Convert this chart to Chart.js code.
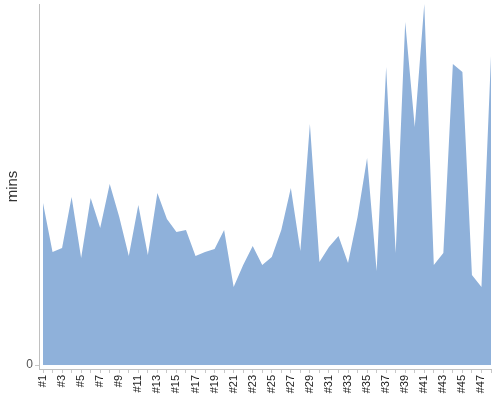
<!DOCTYPE html>
<html>
<head>
<meta charset="utf-8">
<script src="https://cdn.jsdelivr.net/npm/chart.js@4"></script>
<style>
html,body{margin:0;padding:0;background:#fff;}
#wrap{width:500px;height:400px;}
</style>
</head>
<body>
<div id="wrap"><canvas id="c" width="500" height="400"></canvas></div>
<script>
const categories = ["#1","#2","#3","#4","#5","#6","#7","#8","#9","#10","#11","#12","#13","#14","#15","#16","#17","#18","#19","#20","#21","#22","#23","#24","#25","#26","#27","#28","#29","#30","#31","#32","#33","#34","#35","#36","#37","#38","#39","#40","#41","#42","#43","#44","#45","#46","#47","#48"];
const minsValues = [162,113,117,168,107,167,137,181,148,109,160,110,172,146,133,135,109,113,116,135,78,100,119,100,108,135,177,114,241,103,118,129,102,148,207,94,298,112,343,238,361,100,112,301,293,90,78,309];
const yTickValues = [0];
const yTitle = "mins";

const points = minsValues.map((v, i) => ({x: i, y: v}));
const labelFont = {family: "'Liberation Sans', Arial, sans-serif", size: 11};

new Chart(document.getElementById('c'), {
  type: 'line',
  data: {
    datasets: [{
      data: points,
      fill: 'origin',
      backgroundColor: 'rgb(143,177,218)',
      borderColor: 'rgb(143,177,218)',
      borderWidth: 0,
      pointRadius: 0,
      tension: 0
    }]
  },
  options: {
    responsive: false,
    animation: false,
    devicePixelRatio: 1,
    layout: {padding: {top: 4, right: 9, left: 0, bottom: 0}},
    plugins: {legend: {display: false}, tooltip: {enabled: false}},
    scales: {
      x: {
        type: 'linear',
        min: -0.42,
        max: categories.length - 1,
        grid: {display: true, drawOnChartArea: false, drawTicks: true, tickLength: 4, color: '#c8c8c8'},
        border: {display: true, color: '#c0c0c0'},
        ticks: {
          stepSize: 1,
          includeBounds: false,
          autoSkip: false,
          minRotation: 90,
          maxRotation: 90,
          padding: 2,
          color: '#222',
          font: labelFont,
          callback: (v) => (Number.isInteger(v) && v % 2 === 0) ? categories[v] : ''
        },
        afterFit: (s) => { s.height = 31; s.paddingLeft = 0; s.paddingRight = 0; }
      },
      y: {
        min: -4,
        max: 361,
        afterBuildTicks: (s) => { s.ticks = yTickValues.map(v => ({value: v})); },
        grid: {display: true, drawOnChartArea: false, drawTicks: true, tickLength: 4, color: '#c8c8c8'},
        border: {display: true, color: '#c0c0c0'},
        ticks: {padding: 2, color: '#555', font: {family: "'Liberation Sans', Arial, sans-serif", size: 12}},
        title: {display: true, text: yTitle, color: '#333', font: {family: "'Liberation Sans', Arial, sans-serif", size: 15}, padding: {top: 4, bottom: 0}},
        afterFit: (s) => { s.width = 39; s.paddingTop = 0; s.paddingBottom = 0; }
      }
    }
  }
});
</script>
</body>
</html>
